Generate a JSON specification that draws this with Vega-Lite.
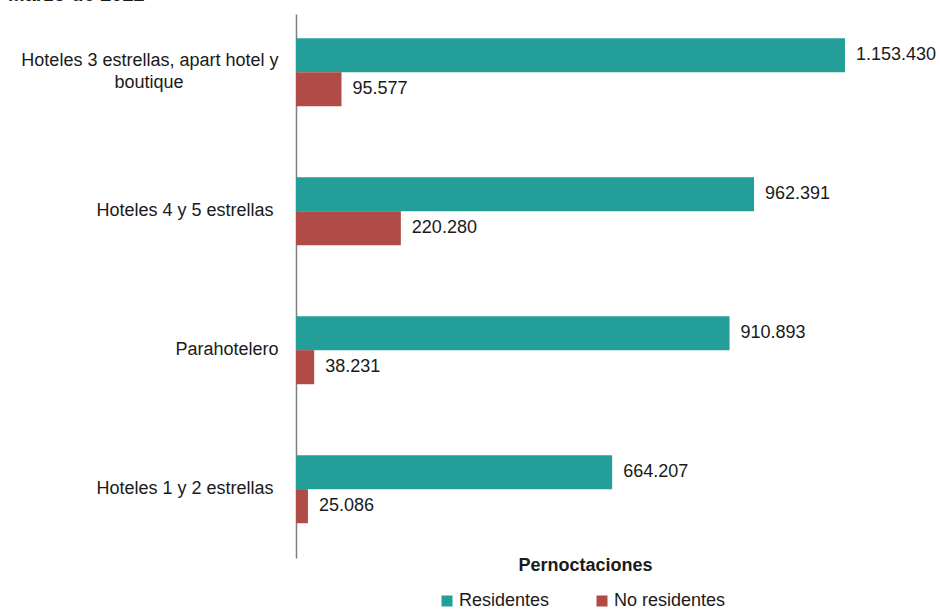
{
  "$schema": "https://vega.github.io/schema/vega-lite/v6.json",
  "width": 600,
  "height": 544,
  "autosize": {"type": "none"},
  "padding": {"left": 296, "top": 14, "right": 44, "bottom": 52},
  "background": "white",
  "title": {
    "text": "Marzo de 2022",
    "anchor": "start",
    "frame": "group",
    "dx": -288,
    "offset": 0,
    "dy": 7,
    "baseline": "alphabetic",
    "font": "Liberation Sans",
    "fontSize": 20,
    "fontWeight": "bold",
    "color": "#1a1a1a"
  },
  "config": {
    "view": {"stroke": null},
    "font": "Liberation Sans",
    "locale": {"number": {"decimal": ",", "thousands": ".", "grouping": [3], "currency": ["", " €"]}}
  },
  "data": {
    "values": [
      {"cat": "Hoteles 3 estrellas, apart hotel y boutique", "serie": "Residentes", "valor": 1153430},
      {"cat": "Hoteles 3 estrellas, apart hotel y boutique", "serie": "No residentes", "valor": 95577},
      {"cat": "Hoteles 4 y 5 estrellas", "serie": "Residentes", "valor": 962391},
      {"cat": "Hoteles 4 y 5 estrellas", "serie": "No residentes", "valor": 220280},
      {"cat": "Parahotelero", "serie": "Residentes", "valor": 910893},
      {"cat": "Parahotelero", "serie": "No residentes", "valor": 38231},
      {"cat": "Hoteles 1 y 2 estrellas", "serie": "Residentes", "valor": 664207},
      {"cat": "Hoteles 1 y 2 estrellas", "serie": "No residentes", "valor": 25086}
    ]
  },
  "encoding": {
    "y": {
      "field": "cat",
      "type": "nominal",
      "sort": null,
      "scale": {"paddingInner": 0.51, "paddingOuter": 0.212, "align": 0.41},
      "axis": {
        "title": null,
        "ticks": false,
        "domainColor": "#808080",
        "domainWidth": 1.5,
        "labelFont": "Liberation Sans",
        "labelFontSize": 18,
        "labelColor": "#1a1a1a",
        "labelPadding": 18,
        "labelLimit": 0,
        "labelLineHeight": 22,
        "labelOffset": {"condition": {"test": "datum.value == 'Hoteles 3 estrellas, apart hotel y boutique'", "value": -11}, "value": 0},
        "labelExpr": "datum.value == 'Hoteles 3 estrellas, apart hotel y boutique' ? ['Hoteles 3 estrellas, apart hotel y', 'boutique\u00a0\u00a0\u00a0\u00a0\u00a0\u00a0\u00a0\u00a0\u00a0\u00a0\u00a0\u00a0\u00a0\u00a0\u00a0\u00a0\u00a0\u00a0\u00a0\u200b'] : (datum.value == 'Parahotelero' ? datum.value : datum.value + '\u00a0\u200b')"
      }
    },
    "yOffset": {"field": "serie", "sort": ["Residentes", "No residentes"]},
    "x": {
      "field": "valor",
      "type": "quantitative",
      "scale": {"domain": [0, 1260583], "nice": false},
      "axis": {
        "labels": false,
        "ticks": false,
        "domain": false,
        "grid": false,
        "title": "Pernoctaciones",
        "titleFont": "Liberation Sans",
        "titleFontSize": 18,
        "titleFontWeight": "bold",
        "titleColor": "#1a1a1a",
        "titleX": 289,
        "titleY": 7,
        "titleBaseline": "middle",
        "titleAlign": "center"
      }
    }
  },
  "layer": [
    {
      "mark": {"type": "bar"},
      "encoding": {
        "color": {
          "field": "serie",
          "type": "nominal",
          "scale": {"domain": ["Residentes", "No residentes"], "range": ["#239e98", "#b04b48"]},
          "legend": {
            "orient": "none",
            "legendX": 142,
            "legendY": 578,
            "direction": "horizontal",
            "title": null,
            "symbolType": "square",
            "symbolSize": 121,
            "symbolStrokeWidth": 0,
            "labelFont": "Liberation Sans",
            "labelFontSize": 18,
            "labelColor": "#1a1a1a",
            "labelOffset": 3,
            "columnPadding": 43
          }
        }
      }
    },
    {
      "mark": {"type": "text", "align": "left", "baseline": "middle", "dx": 11, "fontSize": 18, "font": "Liberation Sans", "color": "#1a1a1a"},
      "encoding": {
        "text": {"field": "valor", "type": "quantitative", "format": ",d"}
      }
    }
  ]
}
